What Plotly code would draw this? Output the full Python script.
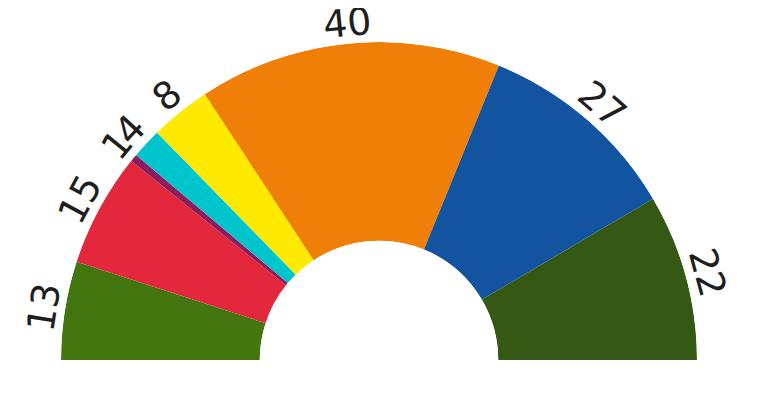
import math
import plotly.graph_objects as go

parties = ["A", "B", "C", "D", "E", "F", "G", "H"]
seats = [13, 15, 1, 4, 8, 40, 27, 22]
colors = ["#44760f", "#e3283d", "#8b1d5e", "#00c5cd", "#ffe900", "#f07f08", "#1254a0", "#355915"]
labels = [str(s) for s in seats]

total = sum(seats)
widths = [s * 180.0 / total for s in seats]
thetas = []
acc = 0.0
for w in widths:
    thetas.append(acc + w / 2)
    acc += w

W, H = 757, 403
ml, mr, mt, mb = 52, 67, 34, 51
pw, ph = W - ml - mr, H - mt - mb

fig = go.Figure()
fig.add_trace(go.Barpolar(
    r=[1] * len(seats), theta=thetas, width=widths,
    marker=dict(color=colors, line=dict(width=0)),
    hoverinfo="skip", showlegend=False,
))

# label positions (pixel center of the half disc)
cx, cy = 379.0 - 7.5, 360.0 - 7.0
R = 319.0
rl = R * 1.066
anns = []
for t, lab in zip(thetas, labels):
    ang = 180 - t  # math angle
    a = math.radians(ang)
    px = cx + rl * math.cos(a)
    py = cy - rl * math.sin(a)
    anns.append(dict(
        x=(px - ml) / pw, y=(H - mb - py) / ph, xref="paper", yref="paper",
        text=lab, showarrow=False, textangle=90 - ang,
        xanchor="center", yanchor="middle",
        font=dict(family="DejaVu Sans", size=38, color="#1e1e1e"),
    ))

fig.update_layout(
    width=W, height=H,
    margin=dict(l=ml, r=mr, t=mt, b=mb),
    paper_bgcolor="white", plot_bgcolor="white",
    polar=dict(
        sector=[0, 180], hole=0.375, bgcolor="white",
        radialaxis=dict(range=[0, 1], visible=False, showgrid=False),
        angularaxis=dict(visible=False, direction="clockwise", rotation=180,
                         thetaunit="degrees", showgrid=False),
        domain=dict(x=[0, 1], y=[0, 1]),
        bargap=0,
    ),
    annotations=anns,
)
fig.write_html("out.html")
